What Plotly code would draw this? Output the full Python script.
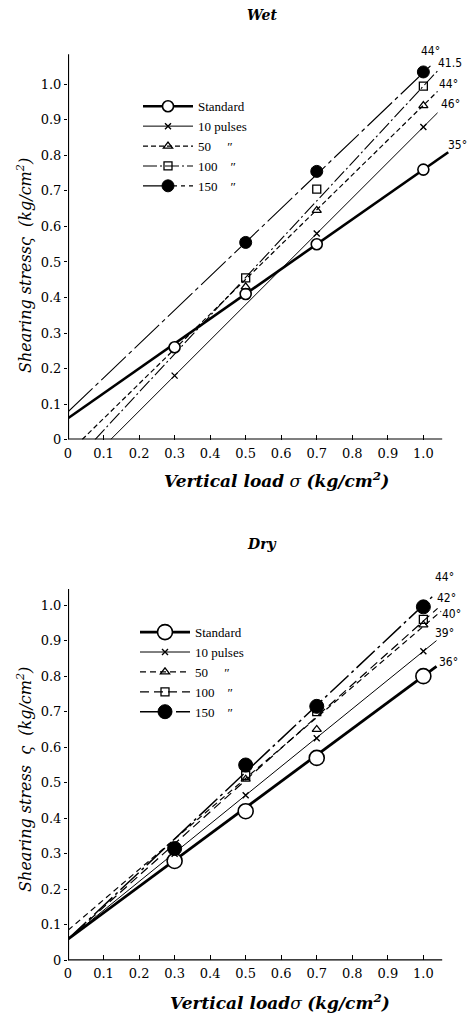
import plotly.graph_objects as go

# ---------------- data ----------------
series_names = ["Standard", "10 pulses", "50", "100", "150"]
legend_labels = ["Standard", "10 pulses", "50\u00a0\u00a0\u00a0\u00a0\u00a0″", "100\u00a0\u00a0\u00a0\u00a0″", "150\u00a0\u00a0\u00a0\u00a0″"]
load_x = [0.3, 0.5, 0.7, 1.0]

# Wet: measured points (None = not plotted)
wet_y = {
    "Standard": [0.26, 0.41, 0.55, 0.76],
    "10 pulses": [0.18, None, 0.58, 0.88],
    "50": [None, 0.43, 0.645, 0.94],
    "100": [None, 0.455, 0.705, 0.995],
    "150": [None, 0.555, 0.755, 1.035],
}
# Wet: fitted failure envelopes (intercept, slope, x start, x end)
wet_intercept = [0.06, -0.12, -0.039, -0.082, 0.078]
wet_slope = [0.70, 1.00, 0.98, 1.077, 0.955]
wet_xstart = [0.0, 0.12, 0.04, 0.076, 0.0]
wet_xend = [1.07, 1.04, 1.04, 1.04, 1.02]
wet_angles = ["35°", "46°", "44°", "41.5", "44°"]

# Dry
dry_y = {
    "Standard": [0.28, 0.42, 0.57, 0.80],
    "10 pulses": [0.30, 0.465, 0.625, 0.87],
    "50": [0.31, 0.51, 0.65, 0.944],
    "100": [0.315, 0.52, 0.70, 0.96],
    "150": [0.315, 0.55, 0.715, 0.995],
}
dry_intercept = [0.06, 0.06, 0.085, 0.06, 0.06]
dry_slope = [0.74, 0.81, 0.855, 0.895, 0.94]
dry_xstart = [0.0, 0.0, 0.0, 0.0, 0.0]
dry_xend = [1.037, 1.037, 1.05, 1.04, 1.025]
dry_angles = ["36°", "39°", "40°", "42°", "44°"]

x_ticks = [0, 0.1, 0.2, 0.3, 0.4, 0.5, 0.6, 0.7, 0.8, 0.9, 1.0]
x_ticklabels = ["0", "0.1", "0.2", "0.3", "0.4", "0.5", "0.6", "0.7", "0.8", "0.9", "1.0"]
y_ticks = [0, 0.1, 0.2, 0.3, 0.4, 0.5, 0.6, 0.7, 0.8, 0.9, 1.0]
y_ticklabels = ["0", "0.1", "0.2", "0.3", "0.4", "0.5", "0.6", "0.7", "0.8", "0.9", "1.0"]

# ---------------- styles ----------------
SERIF = "DejaVu Serif, Liberation Serif, serif"
LSERIF = "Liberation Serif, DejaVu Serif, serif"
wet_style = {
    "Standard": dict(line=dict(width=2.6, dash="solid"),
                     marker=dict(symbol="circle", size=11, color="white", line=dict(color="black", width=1.6))),
    "10 pulses": dict(line=dict(width=1.0, dash="solid"),
                      marker=dict(symbol="x-thin", size=6, color="black", line=dict(color="black", width=1.4))),
    "50": dict(line=dict(width=1.2, dash="5px,3px"),
               marker=dict(symbol="triangle-up-open", size=8, color="black", line=dict(width=1.3))),
    "100": dict(line=dict(width=1.1, dash="14px,3px,2px,3px"),
                marker=dict(symbol="square-open", size=8, color="black", line=dict(width=1.3))),
    "150": dict(line=dict(width=1.1, dash="34px,4px,4px,4px"),
                marker=dict(symbol="circle", size=12, color="black", line=dict(color="black", width=1))),
}
dry_style = {
    "Standard": dict(line=dict(width=2.8, dash="solid"),
                     marker=dict(symbol="circle", size=15, color="white", line=dict(color="black", width=1.6))),
    "10 pulses": dict(line=dict(width=1.0, dash="solid"),
                      marker=dict(symbol="x-thin", size=6, color="black", line=dict(color="black", width=1.4))),
    "50": dict(line=dict(width=1.2, dash="6px,4px"),
               marker=dict(symbol="triangle-up-open", size=8, color="black", line=dict(width=1.3))),
    "100": dict(line=dict(width=1.2, dash="9px,5px"),
                marker=dict(symbol="square-open", size=8, color="black", line=dict(width=1.3))),
    "150": dict(line=dict(width=1.5, dash="25px,4px,3px,4px"),
                marker=dict(symbol="circle", size=14, color="black", line=dict(color="black", width=1))),
}

fig = go.Figure()


def add_panel(points, intercepts, slopes, xstarts, xends, styles, xa, ya, legend_name):
    for i, name in enumerate(series_names):
        st = styles[name]
        xs = [xstarts[i], xends[i]]
        ys = [intercepts[i] + slopes[i] * v for v in xs]
        fig.add_trace(go.Scatter(x=xs, y=ys, mode="lines", xaxis=xa, yaxis=ya,
                                 line=dict(color="black", **st["line"]),
                                 showlegend=False, hoverinfo="skip"))
    for i, name in enumerate(series_names):
        st = styles[name]
        px = [x for x, y in zip(load_x, points[name]) if y is not None]
        py_ = [y for y in points[name] if y is not None]
        fig.add_trace(go.Scatter(x=px, y=py_, mode="markers", xaxis=xa, yaxis=ya,
                                 marker=st["marker"], showlegend=False, cliponaxis=False))
    for i, name in enumerate(series_names):
        st = styles[name]
        fig.add_trace(go.Scatter(x=[None], y=[None], mode="lines+markers", xaxis=xa, yaxis=ya,
                                 name=legend_labels[i], legend=legend_name,
                                 line=dict(color="black", **st["line"]), marker=st["marker"]))


add_panel(wet_y, wet_intercept, wet_slope, wet_xstart, wet_xend, wet_style, "x", "y", "legend")
add_panel(dry_y, dry_intercept, dry_slope, dry_xstart, dry_xend, dry_style, "x2", "y2", "legend2")

# angle labels (layout positions in data coords)
wet_label_pos = [(1.095, 0.83), (1.075, 0.945), (1.07, 1.0), (1.075, 1.06), (1.02, 1.095)]
dry_label_pos = [(1.07, 0.84), (1.06, 0.92), (1.08, 0.975), (1.065, 1.02), (1.06, 1.08)]
LABEL_FONT = dict(family="DejaVu Sans Condensed, DejaVu Sans", size=12, color="#000000")
annotations = []
for (lx, ly), txt in zip(wet_label_pos, wet_angles):
    annotations.append(dict(x=lx, y=ly, xref="x", yref="y", text=txt, showarrow=False, font=LABEL_FONT))
for (lx, ly), txt in zip(dry_label_pos, dry_angles):
    annotations.append(dict(x=lx, y=ly, xref="x2", yref="y2", text=txt, showarrow=False, font=LABEL_FONT))

H = 1027.0
W = 470.0
L, R = 68, 4


def py(px):
    return 1 - px / H


def pxx(px):
    return (px - L) / (W - L - R)


title_font = dict(family=SERIF, size=14, color="#000000")
xt_font = dict(family=SERIF, size=17, color="#000000")
yt_font = dict(family=SERIF, size=16, color="#000000")
C = dict(xref="paper", yref="paper", xanchor="center", yanchor="middle", showarrow=False)
annotations += [
    dict(C, x=pxx(262), y=py(15), text="<b><i>Wet</i></b>", font=title_font),
    dict(C, x=pxx(262), y=py(548), text="<b><i>Dry</i></b>", font=title_font),
    dict(C, x=pxx(276), y=py(484),
         text="<b><i>Vertical load</i></b> <i>σ</i> <b><i>(kg/cm<sup>2</sup>)</i></b>", font=xt_font),
    dict(C, x=pxx(280), y=py(1010),
         text="<b><i>Vertical load</i></b><i>σ</i> <b><i>(kg/cm<sup>2</sup>)</i></b>", font=xt_font),
    dict(C, x=pxx(25), y=py(268), textangle=-90,
         text="<i>Shearing stress</i><i>ς</i>  <i>(kg/cm<sup>2</sup>)</i>", font=yt_font),
    dict(C, x=pxx(25), y=py(786), textangle=-90,
         text="<i>Shearing stress</i>  <i>ς</i>  <i>(kg/cm<sup>2</sup>)</i>", font=yt_font),
]

axis_common = dict(
    tickmode="array", showgrid=False, zeroline=False,
    tickfont=dict(family=SERIF, size=13, color="#000000"),
    color="black", showline=False,
)
xaxis_common = dict(axis_common, range=[0, 1.12], tickvals=x_ticks, ticktext=x_ticklabels,
                    ticks="inside", ticklen=5, tickwidth=1.2, ticklabelstandoff=4)
yaxis_common = dict(axis_common, tickvals=y_ticks, ticktext=y_ticklabels,
                    ticks="outside", ticklen=3, tickwidth=1)

AX = dict(color="black", width=2.2)
shapes = [
    dict(type="line", xref="x", yref="y", x0=0, x1=1.053, y0=0, y1=0, line=AX),
    dict(type="line", xref="x", yref="y", x0=0, x1=0, y0=0, y1=1.085, line=AX),
    dict(type="line", xref="x2", yref="y2", x0=0, x1=1.053, y0=0, y1=0, line=AX),
    dict(type="line", xref="x2", yref="y2", x0=0, x1=0, y0=0, y1=1.045, line=AX),
]

LEG_FONT = dict(family=LSERIF, size=13, color="#000000")
fig.update_layout(
    width=470, height=1027,
    margin=dict(l=L, r=R, t=0, b=0),
    paper_bgcolor="white", plot_bgcolor="white",
    xaxis=dict(xaxis_common, domain=[0, 1], anchor="y"),
    yaxis=dict(yaxis_common, domain=[py(443), py(38.5)], range=[0, 1.13], anchor="x"),
    xaxis2=dict(xaxis_common, domain=[0, 1], anchor="y2"),
    yaxis2=dict(yaxis_common, domain=[py(968), py(574)], range=[0, 1.1], anchor="x2"),
    legend=dict(x=pxx(138), y=py(92), xanchor="left", yanchor="top",
                bgcolor="rgba(0,0,0,0)", font=LEG_FONT, tracegroupgap=0, itemwidth=50),
    legend2=dict(x=pxx(135), y=py(622), xanchor="left", yanchor="top",
                 bgcolor="rgba(0,0,0,0)", font=LEG_FONT, tracegroupgap=0, itemwidth=50),
    annotations=annotations,
    shapes=shapes,
    showlegend=True,
)

fig.write_html("out.html")
